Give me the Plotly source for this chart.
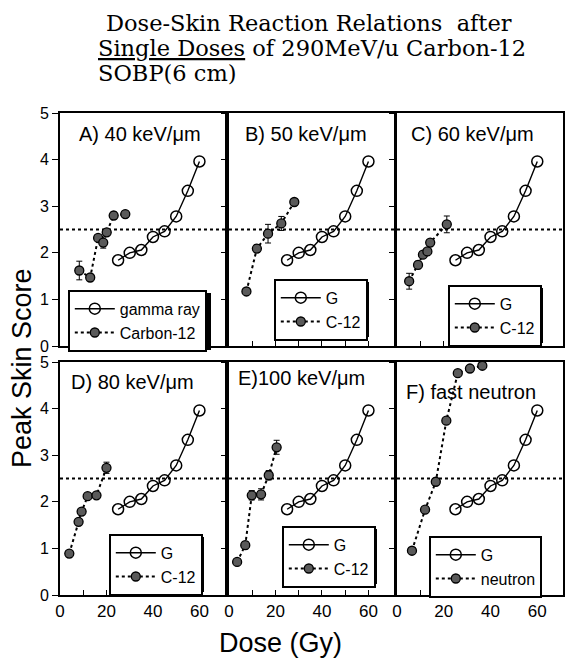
import plotly.graph_objects as go

# ---- data -------------------------------------------------------------
gamma_dose = [25, 30, 35, 40, 45, 50, 55, 60]
gamma_score = [1.84, 2.00, 2.06, 2.34, 2.46, 2.78, 3.33, 3.96]

panel_titles = ["A) 40 keV/\u03bcm", "B) 50 keV/\u03bcm", "C) 60 keV/\u03bcm",
                "D) 80 keV/\u03bcm", "E)100 keV/\u03bcm", "F) fast neutron"]

ion_dose_a = [8.3, 13.0, 16.4, 18.6, 20.1, 23.1, 28.1]
ion_score_a = [1.62, 1.47, 2.32, 2.22, 2.44, 2.80, 2.83]
ion_err_a = [0.20, 0, 0, 0.12, 0.06, 0.08, 0]

ion_dose_b = [7.5, 12.0, 16.8, 22.5, 28.1]
ion_score_b = [1.17, 2.09, 2.41, 2.63, 3.09]
ion_err_b = [0, 0.08, 0.20, 0.15, 0]

ion_dose_c = [5.2, 9.0, 11.1, 13.0, 14.2, 21.3]
ion_score_c = [1.39, 1.74, 1.96, 2.03, 2.22, 2.61]
ion_err_c = [0.17, 0.08, 0, 0.06, 0, 0.18]

ion_dose_d = [4.0, 8.0, 9.3, 11.9, 15.7, 20.0]
ion_score_d = [0.89, 1.57, 1.79, 2.12, 2.14, 2.73]
ion_err_d = [0, 0.05, 0, 0, 0, 0.12]

ion_dose_e = [3.5, 7.0, 9.8, 13.8, 17.1, 20.5]
ion_score_e = [0.71, 1.07, 2.14, 2.16, 2.57, 3.17]
ion_err_e = [0, 0.08, 0.10, 0.12, 0.10, 0.15]

neutron_dose = [6.4, 12.0, 16.6, 21.1, 26.0, 31.2, 36.5]
neutron_score = [0.95, 1.83, 2.43, 3.74, 4.76, 4.86, 4.92]
neutron_err = [0, 0, 0, 0, 0, 0, 0]

legend_gamma = ["gamma ray", "G", "G", "G", "G", "G"]
legend_other = ["Carbon-12", "C-12", "C-12", "C-12", "C-12", "neutron"]

other_dose = [ion_dose_a, ion_dose_b, ion_dose_c, ion_dose_d, ion_dose_e, neutron_dose]
other_score = [ion_score_a, ion_score_b, ion_score_c, ion_score_d, ion_score_e, neutron_score]
other_err = [ion_err_a, ion_err_b, ion_err_c, ion_err_d, ion_err_e, neutron_err]

threshold = 2.5
x_ticks = [0, 10, 20, 30, 40, 50, 60]
x_ticktext = ["0", "", "20", "", "40", "", "60"]
y_ticks = [0, 1, 2, 3, 4, 5]

# ---- layout geometry (pixels in a 566 x 660 page) ------------------------
W, H = 566, 660
cols_px = [(60, 225), (229, 394), (397, 563)]
rows_px = [(113, 346), (362, 595)]
# legend box: left, top, approximate width, height (for the drop shadow)
legend_box = [(68, 290, 140, 57), (274, 279, 92, 55), (448, 285, 92, 55),
              (109, 534, 92, 55), (282, 526, 92, 55), (429, 536, 108, 55)]
label_pos = [(0.10, 4.55), (0.085, 4.55), (0.072, 4.55), (0.055, 4.58), (0.04, 4.65), (0.04, 4.35)]

SANS = "Liberation Sans, Arial, sans-serif"
SERIF = "DejaVu Serif, Liberation Serif, serif"

fig = go.Figure()
layout = dict(
    width=W, height=H, template="none",
    margin=dict(l=0, r=0, t=0, b=0),
    paper_bgcolor="white", plot_bgcolor="white",
    font=dict(family=SANS, color="black"),
    showlegend=True,
)

shapes = []
annotations = []

for i in range(6):
    r, c = divmod(i, 3)
    n = i + 1
    xa = "x" if n == 1 else f"x{n}"
    ya = "y" if n == 1 else f"y{n}"
    leg = "legend" if n == 1 else f"legend{n}"

    x0p, x1p = cols_px[c]
    y0p, y1p = rows_px[r]
    layout["xaxis" if n == 1 else f"xaxis{n}"] = dict(
        domain=[x0p / W, x1p / W], anchor=ya, range=[0, 71],
        showgrid=False, zeroline=False, showline=True, mirror=True,
        linecolor="black", linewidth=1.8,
        tickmode="array", tickvals=x_ticks,
        ticktext=x_ticktext if r == 1 else [""] * len(x_ticks),
        ticks="inside", ticklen=5, tickwidth=1.3, tickcolor="black",
        tickfont=dict(size=17, family=SANS), automargin=False,
    )
    layout["yaxis" if n == 1 else f"yaxis{n}"] = dict(
        domain=[1 - y1p / H, 1 - y0p / H], anchor=xa, range=[0, 5],
        showgrid=False, zeroline=False, showline=True, mirror=True,
        linecolor="black", linewidth=1.8,
        tickmode="array", tickvals=y_ticks,
        showticklabels=(c == 0),
        ticks="outside", ticklen=6, tickwidth=1.3, tickcolor="black",
        tickfont=dict(size=16, family=SANS), automargin=False,
    )

    # gamma-ray reference curve
    fig.add_trace(go.Scatter(
        x=gamma_dose, y=gamma_score, xaxis=xa, yaxis=ya, legend=leg,
        name=legend_gamma[i], mode="lines+markers",
        line=dict(color="black", width=1.4),
        marker=dict(symbol="circle-open", size=11, color="black",
                    line=dict(width=1.5, color="black")),
        cliponaxis=False,
    ))
    # carbon / neutron curve
    fig.add_trace(go.Scatter(
        x=other_dose[i], y=other_score[i], xaxis=xa, yaxis=ya, legend=leg,
        name=legend_other[i], mode="lines+markers",
        line=dict(color="black", width=2, dash="dot"),
        marker=dict(symbol="circle", size=9, color="#5a5a5a",
                    line=dict(width=1.3, color="black")),
        error_y=dict(type="data", array=other_err[i], visible=True,
                     color="black", thickness=1, width=3),
        cliponaxis=False,
    ))

    # tolerance level
    shapes.append(dict(
        type="line", xref=f"{xa} domain", yref=ya, x0=0, x1=1,
        y0=threshold, y1=threshold, layer="below",
        line=dict(color="black", width=1.8, dash="dot"),
    ))

    lx, ly, lw, lh = legend_box[i]
    layout[leg] = dict(
        x=lx / W, y=1 - ly / H, xanchor="left", yanchor="top",
        xref="paper", yref="paper",
        bgcolor="white", bordercolor="black", borderwidth=1.8,
        font=dict(size=16, family=SANS), tracegroupgap=0,
        itemwidth=40,
    )
    # drop shadow behind the legend box
    shapes.append(dict(
        type="rect", xref="paper", yref="paper", layer="above",
        x0=(lx + 3) / W, x1=(lx + lw + 3) / W,
        y0=1 - (ly + lh + 3) / H, y1=1 - (ly + 3) / H,
        fillcolor="black", line=dict(width=0),
    ))

    px_, py_ = label_pos[i]
    annotations.append(dict(
        text=panel_titles[i], xref=f"{xa} domain", yref=ya,
        x=px_, y=py_, xanchor="left", yanchor="middle",
        showarrow=False, font=dict(size=20, family=SANS),
    ))

# page title
title_lines = [
    ("Dose-Skin Reaction Relations  after", 104, 23),
    ("<u>Single Doses</u> of 290MeV/u Carbon-12", 96, 48),
    ("SOBP(6 cm)", 96, 73),
]
for txt, tx, ty in title_lines:
    annotations.append(dict(
        text=txt, xref="paper", yref="paper", x=tx / W, y=1 - ty / H,
        xanchor="left", yanchor="middle", showarrow=False,
        font=dict(size=22.5, family=SERIF),
    ))

# axis titles
annotations.append(dict(
    text="Dose (Gy)", xref="paper", yref="paper", x=280 / W, y=1 - 643 / H,
    xanchor="center", yanchor="middle", showarrow=False,
    font=dict(size=27, family=SANS),
))
annotations.append(dict(
    text="Peak Skin Score", xref="paper", yref="paper", x=22 / W, y=1 - 368 / H,
    xanchor="center", yanchor="middle", showarrow=False, textangle=-90,
    font=dict(size=27, family=SANS),
))

layout["shapes"] = shapes
layout["annotations"] = annotations
fig.update_layout(**layout)
fig.write_html("out.html")
